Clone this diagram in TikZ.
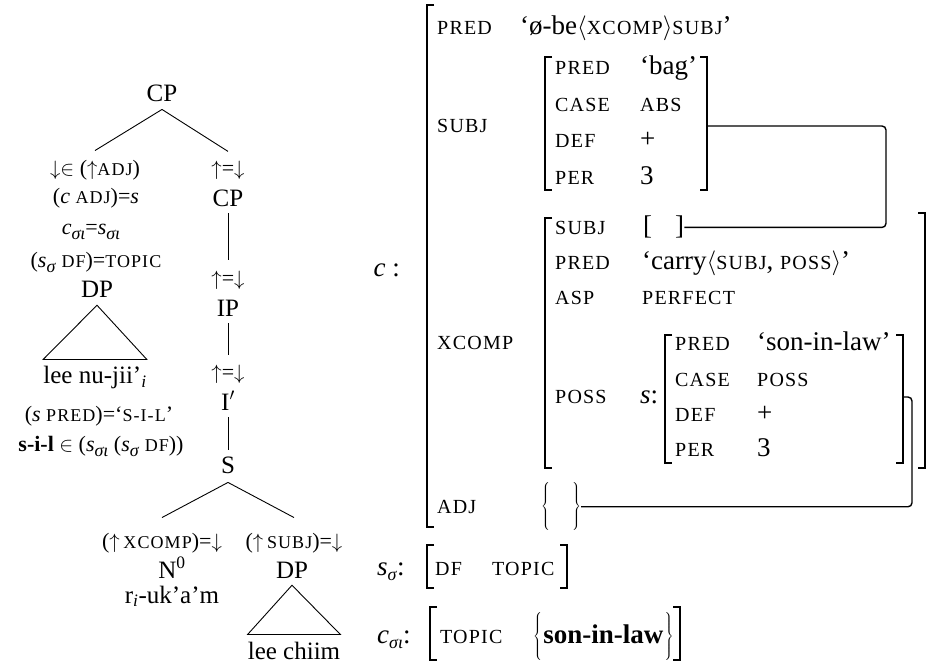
\documentclass[tikz,border=0pt]{standalone}
\usepackage{fontspec}
\setmainfont{Liberation Serif}
\newfontfamily\featfont[LetterSpace=6]{Liberation Serif}
\usetikzlibrary{positioning}

\newcommand\fsc[1]{{\fontsize{20}{20}\featfont #1}}
\newcommand\asc[1]{{\fontsize{18}{18}\featfont #1}}
\newcommand\subsig[1]{\raisebox{-5pt}{\fontsize{18}{18}\selectfont\textit{#1}}}
\newcommand\lbrak[4][brak]{\draw[#1] (#2+7,#3) -- (#2,#3) -- (#2,#4) -- (#2+7,#4);}
\newcommand\rbrak[4][brak]{\draw[#1] (#2-7,#3) -- (#2,#3) -- (#2,#4) -- (#2-7,#4);}

\begin{document}
\begin{tikzpicture}[x=1pt,y=-1pt,
  cat/.style={font=\fontsize{25}{30}\selectfont,inner sep=0pt,anchor=base},
  ann/.style={font=\fontsize{22}{26}\selectfont,inner sep=0pt,anchor=base},
  feat/.style={font=\fontsize{20}{22}\featfont,inner sep=0pt,anchor=base west},
  val/.style={font=\fontsize{27}{32}\selectfont,inner sep=0pt,anchor=base west},
  brak/.style={line width=2.2pt},
  thinbrak/.style={line width=1.3pt},
  link/.style={line width=1.4pt,rounded corners=4pt},
  branch/.style={line width=0.9pt}]
\useasboundingbox (0,0) rectangle (930,663);

% c-structure
\node[cat] (cptop) at (162,102) {CP};
\node[ann] (adjin) at (95,176) {$\downarrow\in$ ($\uparrow$\asc{ADJ})};
\node[ann] (upd1) at (228,176) {$\uparrow$=$\downarrow$};
\node[ann] (cadj) at (96,204) {(\textit{c} \asc{ADJ})=\textit{s}};
\node[cat] (cpmid) at (228,207) {CP};
\node[ann] (sigeq) at (91,235) {\textit{c}\subsig{σι}=\textit{s}\subsig{σι}};
\node[ann] (dftop) at (96,268) {(\textit{s}\subsig{σ} \asc{DF})=\asc{TOPIC}};
\node[cat] (dpleft) at (97,298) {DP};
\node[cat] (leenu) at (95,384) {lee nu-jii’\textsubscript{\textit{i}}};
\node[ann] (spred) at (99,421) {(\textit{s} \asc{PRED})=‘\asc{S-I-L}’};
\node[ann] (silin) at (101,451) {\textbf{s-i-l} $\in$ (\textit{s}\subsig{σι} (\textit{s}\subsig{σ} \asc{DF}))};
\node[ann] (upd2) at (228,286) {$\uparrow$=$\downarrow$};
\node[cat] (ip) at (228,317) {IP};
\node[ann] (upd3) at (228,379) {$\uparrow$=$\downarrow$};
\node[cat] (ibar) at (228,410) {I$'$};
\node[cat] (sroot) at (228,473) {S};
\node[ann] (xcann) at (162,548) {($\uparrow$\,\asc{XCOMP})=$\downarrow$};
\node[ann] (sbann) at (294,548) {($\uparrow$\,\asc{SUBJ})=$\downarrow$};
\node[cat] (nzero) at (172,578) {N\textsuperscript{0}};
\node[cat] (riuk) at (172,603) {r\textsubscript{\textit{i}}-uk’a’m};
\node[cat] (dpright) at (292,578) {DP};
\node[cat] (leechiim) at (294,659) {lee chiim};

\draw[branch] ([yshift=-7pt]cptop.south) -- ([yshift=10pt]adjin.north);
\draw[branch] ([yshift=-7pt]cptop.south) -- ([yshift=10pt]upd1.north);
\draw[branch] ([yshift=-6pt]cpmid.south) -- ([yshift=11pt]upd2.north);
\draw[branch] ([yshift=-6pt]ip.south) -- ([yshift=9pt]upd3.north);
\draw[branch] ([yshift=-7pt]ibar.south) -- ([yshift=6pt]sroot.north);
\draw[branch] ([yshift=-9pt]sroot.south) -- ([yshift=15pt]xcann.north);
\draw[branch] ([yshift=-9pt]sroot.south) -- ([yshift=15pt]sbann.north);
\draw[branch] ([yshift=-7pt]dpleft.south) -- ([yshift=7pt]leenu.north west)
  -- ([yshift=7pt]leenu.north east) -- cycle;
\draw[branch] ([yshift=-7pt]dpright.south) -- ([yshift=7pt]leechiim.north west)
  -- ([yshift=7pt]leechiim.north east) -- cycle;

% f-structure
\node[val,anchor=base east] (clabel) at (400,277) {\textit{c} :};
\lbrak{427}{5}{527}
\node[feat] (fpred) at (437,35) {PRED};
\node[val] (vpred) at (520,35) {‘ø-be$\langle$\fsc{XCOMP}$\rangle$\fsc{SUBJ}’};
\node[feat] (fsubj) at (437,133) {SUBJ};
\lbrak{545}{57}{190}
\rbrak{707}{57}{190}
\foreach \f/\v/\y in {PRED/‘bag’/75,CASE/{\fsc{ABS}}/112,DEF/+/148,PER/3/185}{
  \node[feat] (subjf\y) at (555,\y) {\f};
  \node[val] (subjv\y) at (640,\y) {\v};
}
\coordinate (subjR) at (707,126);

\node[feat] (fxcomp) at (437,350) {XCOMP};
\lbrak{545}{218}{468}
\rbrak{925}{213}{468}
\foreach \f/\y in {SUBJ/235,PRED/270,ASP/305,POSS/403}
  \node[feat] (xf\y) at (555,\y) {\f};
\node[val] (subjgap) at (643,235) {[\hspace{23pt}]};
\node[val] (carry) at (642,270) {‘carry$\langle$\fsc{SUBJ}, \fsc{POSS}$\rangle$’};
\node[val] (perf) at (642,305) {\fsc{PERFECT}};
\node[val] (slabel) at (640,403) {\textit{s}:};
\lbrak{665}{335}{463}
\rbrak{903}{335}{463}
\foreach \f/\v/\y in {PRED/‘son-in-law’/351,CASE/{\fsc{POSS}}/386,DEF/+/421,PER/3/456}{
  \node[feat] (possf\y) at (675,\y) {\f};
  \node[val] (possv\y) at (757,\y) {\v};
}
\coordinate (possR) at (903,397);

\node[feat] (fadj) at (437,513) {ADJ};
\node[val] (adjset) at (541,513) {$\left\{\rule[-16pt]{0pt}{46pt}\hspace{22pt}\right\}$};

\draw[link] (subjR) -- ++(179,0) |- (subjgap.east);
\draw[link] (possR) -- ++(9,0) |- (adjset.east);

% s-structure and i-structure
\node[val] (ssig) at (377,575) {\textit{s}\subsig{σ}:};
\lbrak[thinbrak]{427}{545}{588}
\node[feat] (sdf) at (435,575) {DF};
\node[feat] (stopic) at (492,575) {TOPIC};
\rbrak[thinbrak]{567}{545}{588}

\node[val] (csig) at (377,643) {\textit{c}\subsig{σι}:};
\lbrak[thinbrak]{430}{607}{660}
\node[feat] (ctopic) at (440,643) {TOPIC};
\node[val] (topicset) at (533,643) {$\left\{\rule[-10pt]{0pt}{40pt}\right.$\textbf{son-in-law}$\left.\rule[-10pt]{0pt}{40pt}\right\}$};
\rbrak[thinbrak]{680}{607}{660}
\end{tikzpicture}
\end{document}
